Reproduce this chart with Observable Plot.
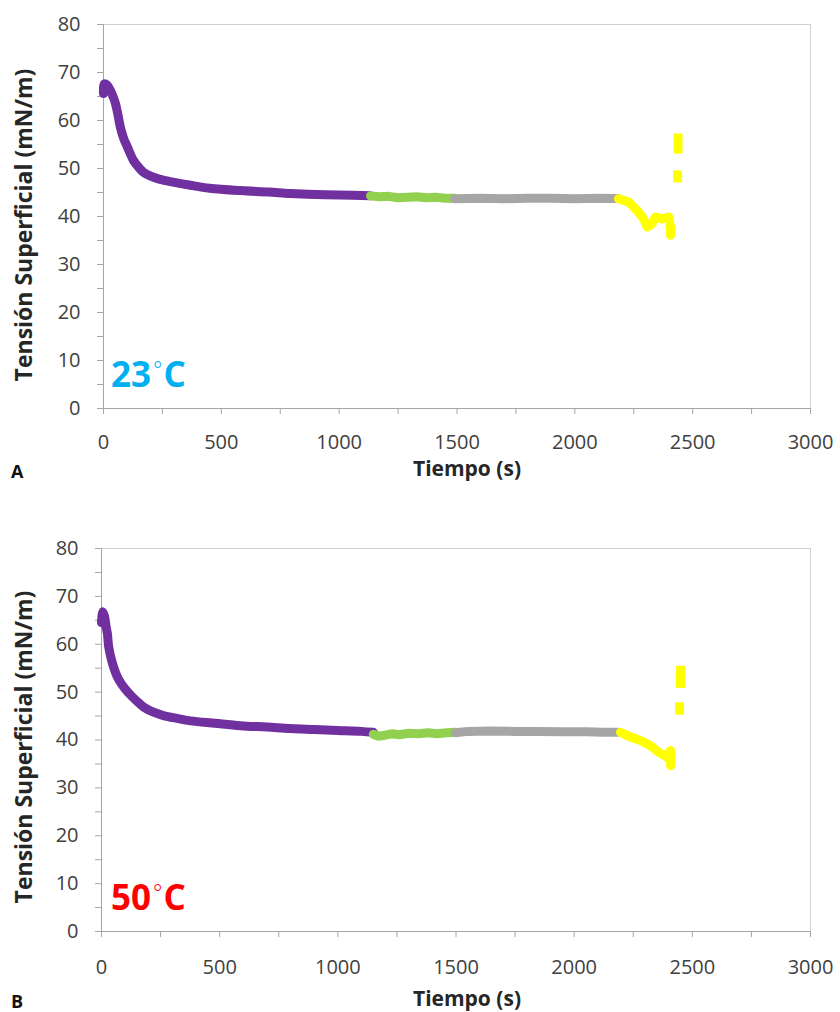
<!DOCTYPE html>
<html><head><meta charset="utf-8">
<script src="https://cdn.jsdelivr.net/npm/d3@7"></script>
<script src="https://cdn.jsdelivr.net/npm/@observablehq/plot@0.6"></script>
<style>
body{margin:0;background:#fff;}
#chart svg{display:block;}
</style>
</head><body><div id="chart"></div>
<script>
// ---- tick values ----
const xTicks = [0, 500, 1000, 1500, 2000, 2500, 3000];
const xMinor = [0, 250, 500, 750, 1000, 1250, 1500, 1750, 2000, 2250, 2500, 2750, 3000];
const yTicks = [0, 10, 20, 30, 40, 50, 60, 70, 80];
const yMinor = [0, 5, 10, 15, 20, 25, 30, 35, 40, 45, 50, 55, 60, 65, 70, 75, 80];
const xLabel = "Tiempo (s)";
const yLabel = "Tensión Superficial (mN/m)";

const seriesNames = ["s1", "s2", "s3", "s4", "s5", "s6"];
const seriesColors = ["#7030A0", "#92D050", "#A6A6A6", "#FFFF00", "#FFFF00", "#FFFF00"];

// ---- Panel A (23 °C) ----
const aPurpleT = [0, 3, 15, 30, 42, 51, 62, 72, 86, 102, 127, 150, 170, 200, 229, 270, 300, 369, 450, 581, 700, 793, 900, 1000, 1133];
const aPurpleV = [65.6, 67.6, 67.4, 66.2, 64.8, 63.5, 61.0, 58.5, 56.2, 54.4, 51.7, 50.2, 49.2, 48.4, 47.9, 47.4, 47.1, 46.5, 45.9, 45.4, 45.1, 44.8, 44.6, 44.5, 44.3];
const aGreenT = [1133, 1170, 1210, 1250, 1290, 1330, 1370, 1410, 1450, 1490];
const aGreenV = [44.3, 44.1, 44.2, 43.9, 44.0, 44.1, 43.9, 44.0, 43.8, 43.8];
const aGrayT = [1490, 1600, 1700, 1800, 1900, 2000, 2100, 2181];
const aGrayV = [43.7, 43.8, 43.7, 43.8, 43.8, 43.7, 43.8, 43.75];
const aYellowT = [2185, 2229, 2264, 2292, 2307, 2328, 2342, 2370, 2398, 2406, 2406];
const aYellowV = [43.7, 43.0, 41.25, 39.5, 37.8, 38.5, 39.9, 39.5, 39.9, 37.8, 36.1];
const aBlob1T = [2438, 2438];
const aBlob1V = [57.3, 53.1];
const aBlob2T = [2436, 2436];
const aBlob2V = [49.6, 47.1];

// ---- Panel B (50 °C) ----
const bPurpleT = [0, 4, 12, 20, 25, 30, 38, 47, 60, 72, 86, 100, 123, 150, 178, 220, 262, 320, 377, 480, 588, 700, 800, 900, 1000, 1100, 1150];
const bPurpleV = [64.5, 66.8, 66.0, 63.5, 62.2, 59.6, 57.6, 55.9, 54.0, 52.7, 51.6, 50.7, 49.4, 48.1, 46.9, 45.8, 45.1, 44.5, 44.0, 43.5, 43.0, 42.7, 42.4, 42.2, 42.0, 41.8, 41.6];
const bGreenT = [1150, 1170, 1200, 1230, 1260, 1300, 1340, 1380, 1420, 1460, 1498];
const bGreenV = [41.2, 40.8, 41.0, 41.3, 41.1, 41.4, 41.3, 41.5, 41.3, 41.5, 41.6];
const bGrayT = [1498, 1550, 1650, 1750, 1850, 1950, 2050, 2120, 2184];
const bGrayV = [41.5, 41.8, 41.9, 41.8, 41.8, 41.7, 41.7, 41.6, 41.6];
const bYellowT = [2196, 2239, 2281, 2323, 2359, 2394, 2408, 2408];
const bYellowV = [41.6, 40.6, 39.9, 38.8, 37.4, 36.4, 37.8, 34.6];
const bBlob1T = [2450, 2450];
const bBlob1V = [55.5, 50.9];
const bBlob2T = [2446, 2446];
const bBlob2V = [47.9, 45.3];

const FONT = "'Open Sans', sans-serif";

function rows(list) {
  const out = [];
  list.forEach(([t, v, name]) => t.forEach((tt, i) => out.push({t: tt, v: v[i], seg: name})));
  return out;
}

function panel(cfg) {
  const curveData = rows(cfg.curve);
  const lineData = rows(cfg.lines);
  const blobData = rows(cfg.blobs);
  const plot = Plot.plot({
    width: 840, height: cfg.height,
    marginLeft: cfg.ml, marginRight: 30, marginTop: cfg.mt, marginBottom: cfg.mb,
    style: {fontFamily: FONT, fontSize: "20px", background: "#fff", overflow: "visible"},
    x: {domain: [0, 3000]},
    y: {domain: [0, 80]},
    color: {domain: seriesNames, range: seriesColors},
    marks: [
      Plot.frame({stroke: "#d0d0d0"}),
      Plot.axisX({ticks: xMinor, tickSize: 6, tickFormat: () => "", stroke: "#a6a6a6", label: null}),
      Plot.axisX({ticks: xTicks, tickSize: 0, tickPadding: cfg.xPad, tickFormat: d => String(d), fill: "#404040", label: null, fontSize: 20}),
      Plot.axisY({ticks: yMinor, tickSize: 6, tickFormat: () => "", stroke: "#a6a6a6", label: null}),
      Plot.axisY({ticks: yTicks, tickSize: 0, tickPadding: 23, tickFormat: d => String(d), fill: "#404040", label: null, fontSize: 20}),
      Plot.ruleX([0], {stroke: "#a6a6a6", insetBottom: -6}),
      Plot.ruleY([0], {stroke: "#a6a6a6", insetLeft: -6}),
      Plot.line(curveData, {x: "t", y: "v", z: "seg", stroke: "seg", strokeWidth: 9, curve: "catmull-rom", strokeLinecap: "round", strokeLinejoin: "round"}),
      Plot.line(lineData, {x: "t", y: "v", z: "seg", stroke: "seg", strokeWidth: 9, strokeLinecap: "round", strokeLinejoin: "round"}),
      Plot.line(blobData, {x: "t", y: "v", z: "seg", stroke: "seg", strokeWidth: 9, strokeLinecap: "butt"})
    ]
  });
  const svg = d3.select(plot);
  svg.append("text")
    .attr("transform", `translate(32,${cfg.yLabelC}) rotate(-90)`)
    .attr("text-anchor", "middle").attr("font-weight", "bold").attr("font-size", 23)
    .attr("font-family", FONT).attr("fill", "#262626").text(yLabel);
  svg.append("text")
    .attr("x", 467).attr("y", cfg.xLabelY)
    .attr("text-anchor", "middle").attr("font-weight", "bold").attr("font-size", 21)
    .attr("font-family", FONT).attr("fill", "#262626").text(xLabel);
  svg.append("text")
    .attr("x", 11).attr("y", cfg.letterY).attr("text-anchor", "start")
    .attr("font-weight", "bold").attr("font-size", 18)
    .attr("font-family", FONT).attr("fill", "#111").text(cfg.letter);
  const t = svg.append("text")
    .attr("x", 111).attr("y", cfg.tempY).attr("text-anchor", "start")
    .attr("font-family", FONT).attr("fill", cfg.tempColor);
  t.append("tspan").attr("font-weight", "bold").attr("font-size", 35).text(cfg.temp);
  t.append("tspan").attr("font-weight", "300").attr("font-size", 22).attr("dx", 2).attr("dy", -9).text("°");
  t.append("tspan").attr("font-weight", "bold").attr("font-size", 35).attr("dx", 1).attr("dy", 9).text("C");
  return plot;
}

const chart = document.getElementById("chart");
chart.appendChild(panel({
  height: 500, ml: 103, mt: 24, mb: 92, xPad: 26,
  curve: [[aPurpleT, aPurpleV, "s1"]],
  lines: [[aGreenT, aGreenV, "s2"], [aGrayT, aGrayV, "s3"], [aYellowT, aYellowV, "s4"]],
  blobs: [[aBlob1T, aBlob1V, "s5"], [aBlob2T, aBlob2V, "s6"]],
  yLabelC: 225, xLabelY: 476, letter: "A", letterY: 478,
  temp: "23", tempY: 387, tempColor: "#00B0F0"
}));
chart.appendChild(panel({
  height: 512, ml: 101, mt: 48, mb: 81, xPad: 28,
  curve: [[bPurpleT, bPurpleV, "s1"]],
  lines: [[bGreenT, bGreenV, "s2"], [bGrayT, bGrayV, "s3"], [bYellowT, bYellowV, "s4"]],
  blobs: [[bBlob1T, bBlob1V, "s5"], [bBlob2T, bBlob2V, "s6"]],
  yLabelC: 247, xLabelY: 506, letter: "B", letterY: 508,
  temp: "50", tempY: 410, tempColor: "#FF0000"
}));
</script>
</body></html>
